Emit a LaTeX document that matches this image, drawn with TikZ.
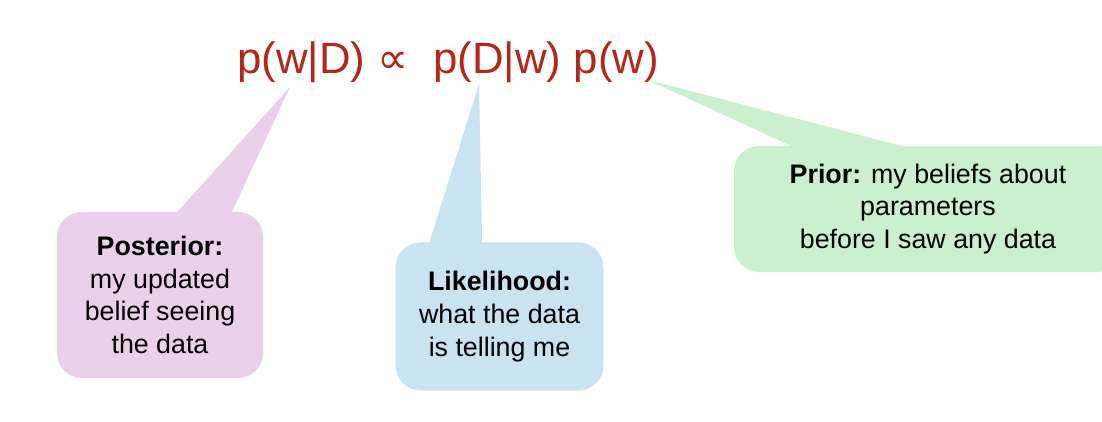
\documentclass[tikz,border=0pt]{standalone}
\usepackage{fontspec}
\setmainfont{Liberation Sans}
\newfontfamily\symfont{DejaVu Sans}
\usetikzlibrary{positioning,calc}
\definecolor{eqred}{HTML}{B3281A}
\definecolor{postpink}{HTML}{EBD0EB}
\definecolor{likeblue}{HTML}{C9E3F2}
\definecolor{priorgreen}{HTML}{CAF0CE}
\tikzset{
  bubble/.style={rounded corners=12.5pt, inner sep=0pt, align=center,
    font=\fontsize{13.4}{16.4}\selectfont, text=black},
}
\begin{document}
\begin{tikzpicture}[x=0.5pt,y=-0.5pt]
  \useasboundingbox (0,0) rectangle (1102,422);
  \clip (0,0) rectangle (1102,422);
  \node[anchor=base west, inner sep=0pt, text=eqred, font=\fontsize{21.9}{26}\selectfont] (eq) at (237,74)
    {p(w|D) {\symfont ∝}\ \ p(D|w) p(w)};
  \coordinate (tippost) at (290,87);
  \coordinate (tiplike) at (479,84);
  \coordinate (tipprior) at (648,80);
  \node[bubble, fill=postpink, minimum width=103pt, minimum height=83pt] (post) at (160,295)
    {\textbf{Posterior:}\\my updated\\belief seeing\\the data};
  \node[bubble, fill=likeblue, minimum width=104pt, minimum height=74pt] (like) at (499.5,316.5)
    {\textbf{Likelihood:}\\what the data\\is telling me};
  \node[bubble, fill=priorgreen, minimum width=194pt, minimum height=63pt] (prior) at (928,209)
    {\textbf{Prior:} my beliefs about\\parameters\\before I saw any data};
  \fill[postpink] (tippost) -- ($(post.north west)+(120,1)$) -- ($(post.north west)+(175,1)$) -- cycle;
  \fill[likeblue] (tiplike) -- ($(like.north west)+(34,1)$) -- ($(like.north west)+(87,1)$) -- cycle;
  \fill[priorgreen] (tipprior) -- ($(prior.north west)+(59,1)$) -- ($(prior.north west)+(171,1)$) -- cycle;
\end{tikzpicture}
\end{document}
